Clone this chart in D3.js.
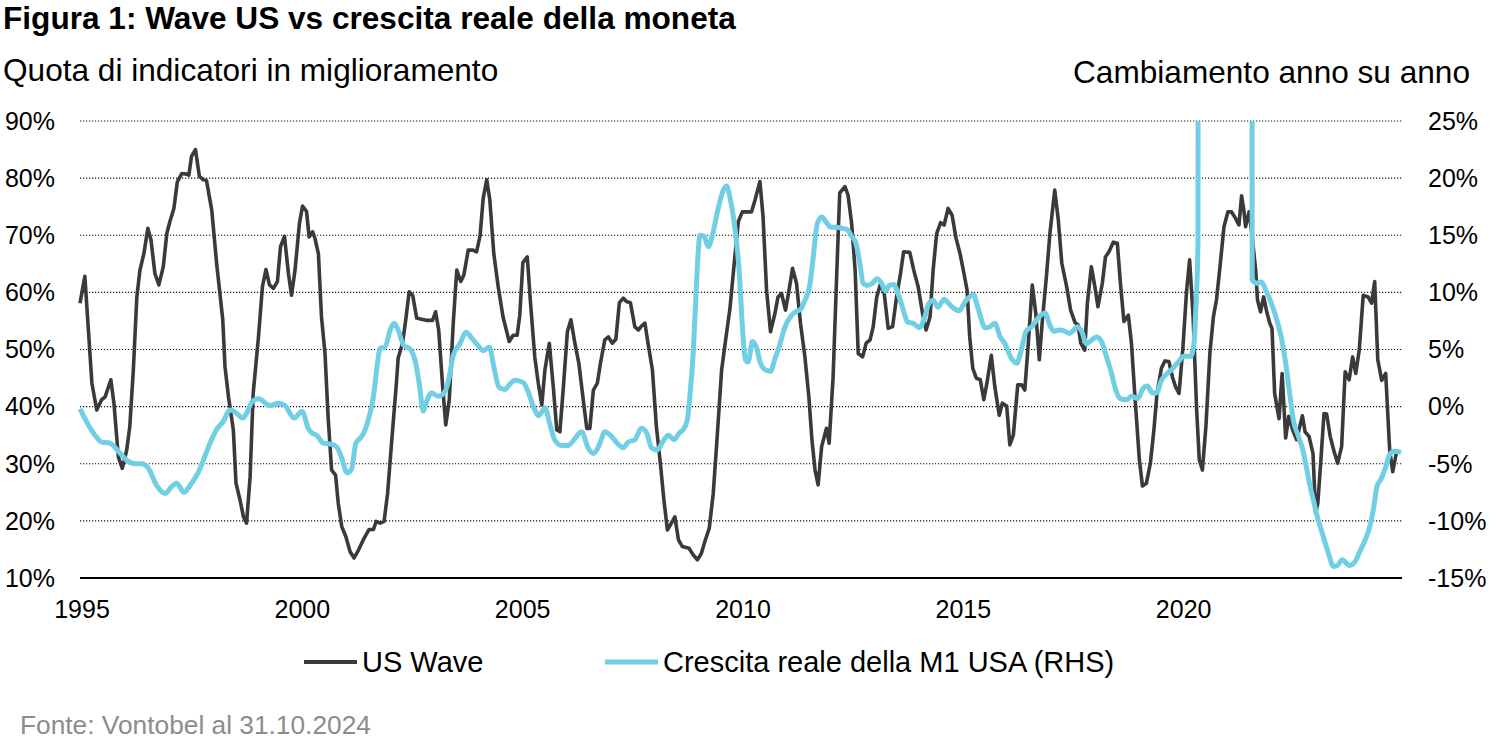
<!DOCTYPE html>
<html>
<head>
<meta charset="utf-8">
<script src="https://cdn.jsdelivr.net/npm/d3@7"></script>
<style>
  body { margin: 0; background: #fff; }
  svg { display: block; font-family: "Liberation Sans", Arial, sans-serif; }
</style>
</head>
<body>
<div id="grafico"></div>
<script>
// --- dati (anno decimale, valore) ---
const waveAnni = [1995.00,1995.11,1995.27,1995.38,1995.49,1995.57,1995.70,1995.77,1995.87,1995.96,
  1996.06,1996.13,1996.21,1996.29,1996.36,1996.45,1996.54,1996.61,1996.70,1996.79,1996.89,1996.97,
  1997.04,1997.13,1997.21,1997.31,1997.42,1997.47,1997.53,1997.62,1997.71,1997.80,1997.87,1997.99,
  1998.10,1998.24,1998.29,1998.37,1998.48,1998.54,1998.63,1998.71,1998.78,1998.86,1998.93,
  1999.05,1999.14,1999.22,1999.30,1999.39,1999.48,1999.55,1999.64,1999.73,1999.80,1999.88,1999.98,
  2000.05,2000.14,2000.20,2000.28,2000.33,2000.41,2000.48,2000.56,2000.63,2000.71,2000.80,2000.86,2000.94,
  2001.03,2001.13,2001.22,2001.32,2001.43,2001.56,2001.66,2001.72,2001.81,2001.90,2001.98,
  2002.07,2002.18,2002.22,2002.32,2002.40,2002.47,2002.55,2002.64,2002.75,2002.86,
  2003.00,2003.07,2003.14,2003.23,2003.30,2003.38,2003.47,2003.55,2003.64,2003.71,2003.81,2003.92,
  2004.00,2004.08,2004.15,2004.23,2004.30,2004.39,2004.49,2004.60,2004.74,2004.83,2004.92,2004.98,
  2005.05,2005.15,2005.22,2005.32,2005.40,2005.48,2005.55,2005.65,2005.74,2005.82,2005.89,2005.97,
  2006.06,2006.14,2006.23,2006.32,2006.42,2006.50,2006.57,2006.65,2006.74,2006.81,2006.91,2006.99,
  2007.08,2007.16,2007.24,2007.33,2007.40,2007.49,2007.59,2007.67,2007.74,2007.82,2007.89,2007.99,
  2008.08,2008.17,2008.25,2008.33,2008.42,2008.50,2008.58,2008.67,2008.82,2008.92,
  2009.01,2009.10,2009.18,2009.28,2009.37,2009.46,2009.56,2009.66,2009.75,2009.86,2009.94,
  2010.03,2010.24,2010.32,2010.43,2010.50,2010.58,2010.67,2010.77,2010.84,2010.92,
  2011.01,2011.09,2011.17,2011.26,2011.35,2011.45,2011.54,2011.61,2011.68,2011.75,2011.83,2011.94,
  2012.00,2012.09,2012.17,2012.24,2012.36,2012.43,2012.51,2012.59,2012.66,2012.76,2012.84,2012.93,
  2013.00,2013.08,2013.17,2013.25,2013.34,2013.44,2013.53,2013.62,2013.69,2013.83,2013.92,
  2014.02,2014.12,2014.20,2014.29,2014.36,2014.44,2014.53,2014.61,2014.70,2014.79,2014.88,2014.97,
  2015.06,2015.13,2015.19,2015.26,2015.34,2015.43,2015.51,2015.58,2015.68,2015.76,2015.86,2015.93,
  2016.03,2016.10,2016.18,2016.28,2016.37,2016.44,2016.52,2016.61,2016.69,2016.77,2016.84,2016.93,
  2017.01,2017.12,2017.20,2017.28,2017.39,2017.48,2017.58,2017.65,2017.71,2017.80,2017.86,2017.95,
  2018.03,2018.10,2018.20,2018.27,2018.35,2018.45,2018.54,2018.61,2018.69,2018.79,2018.86,2018.94,
  2019.04,2019.11,2019.20,2019.29,2019.37,2019.44,2019.54,2019.62,2019.71,2019.79,2019.86,2019.94,
  2020.03,2020.11,2020.18,2020.26,2020.34,2020.40,2020.47,2020.55,2020.64,2020.72,2020.79,2020.87,2020.96,
  2021.05,2021.13,2021.22,2021.30,2021.36,2021.41,2021.45,2021.53,2021.60,2021.68,2021.72,2021.79,2021.86,2021.94,
  2022.00,2022.05,2022.11,2022.21,2022.28,2022.36,2022.43,2022.52,2022.61,2022.68,2022.74,2022.80,2022.89,2022.98,
  2023.04,2023.09,2023.16,2023.23,2023.29,2023.37,2023.46,2023.54,2023.63,2023.71,2023.80,2023.88,2023.95,
  2024.03,2024.12,2024.23,2024.31,2024.38,2024.45,2024.54,2024.63,2024.72,2024.79,2024.87];
const waveValori = [58.1,62.8,44.1,39.4,41.2,41.7,44.7,40.6,31.2,29.2,
  32.4,36.5,46.4,59.2,63.9,66.8,71.2,69.2,63.3,61.3,64.5,70.3,
  72.4,74.7,79.4,80.8,80.7,80.5,83.8,85.0,80.3,79.7,79.6,74.4,
  65.1,55.2,47.0,41.7,35.9,26.6,23.7,20.7,19.6,27.7,42.3,
  52.2,61.0,64.0,61.3,60.7,61.9,68.0,69.8,63.3,59.5,63.9,72.1,
  75.1,74.2,69.7,70.6,69.5,66.8,55.7,49.3,38.2,28.9,28.0,23.1,19.0,
  17.3,14.6,13.5,14.9,16.7,18.5,18.5,19.9,19.6,19.9,24.8,
  33.6,44.1,48.5,51.1,55.7,60.1,59.5,55.5,55.3,55.1,
  55.1,56.6,53.4,43.5,36.8,41.2,54.6,63.9,61.9,63.0,67.4,67.4,
  67.1,70.0,76.5,79.7,76.2,66.8,61.0,55.7,51.4,52.5,52.5,56.0,
  65.2,66.2,58.5,48.7,44.1,40.3,46.4,51.1,43.5,35.9,35.6,43.5,
  53.1,55.2,51.1,47.6,41.2,36.2,36.2,42.9,44.1,47.6,51.7,52.2,
  51.1,51.8,58.2,59.0,58.4,58.2,54.0,53.4,54.1,54.6,51.1,46.4,
  36.5,30.1,23.7,18.4,19.6,20.7,16.7,15.5,15.2,14.0,
  13.2,14.3,16.4,18.7,24.8,34.8,46.4,52.2,57.2,66.2,72.4,
  74.1,74.1,76.2,79.4,73.3,60.4,53.1,56.3,59.2,59.8,
  56.9,60.4,64.2,61.6,54.6,48.7,41.7,34.2,28.9,26.3,33.0,36.2,
  33.6,45.2,62.7,77.4,78.5,77.0,72.1,63.9,49.3,48.7,51.1,51.7,
  54.0,59.2,61.6,59.8,53.7,54.0,59.2,63.3,67.1,67.0,63.9,
  61.0,56.3,53.4,55.7,63.9,70.3,72.2,71.8,74.7,73.5,69.5,66.8,
  63.3,60.4,52.2,46.7,45.0,44.7,41.2,44.1,49.0,43.5,38.5,40.6,
  40.1,33.3,35.0,43.8,43.8,42.9,51.1,61.3,56.3,48.2,55.2,62.7,
  70.3,77.9,72.7,65.1,61.0,56.9,54.7,54.3,51.1,49.9,58.1,64.5,
  61.0,57.5,61.6,66.2,67.1,68.8,68.6,61.6,54.9,56.0,51.1,41.7,
  30.7,26.1,26.6,30.1,35.9,42.3,46.7,48.0,47.9,45.2,43.5,42.3,
  50.5,60.1,65.7,55.7,39.4,30.7,28.9,36.5,49.3,55.7,58.7,64.5,71.5,
  74.1,74.1,73.0,71.8,76.9,74.4,71.5,74.1,69.8,63.9,58.7,56.6,59.2,56.3,
  54.6,53.7,42.3,37.9,45.8,34.5,38.3,35.9,34.2,36.5,38.4,35.6,34.8,31.8,
  21.3,23.1,30.7,38.8,38.7,34.8,32.1,30.1,33.0,46.1,44.7,48.7,45.8,
  49.9,59.5,59.2,58.1,61.9,48.2,44.6,45.8,32.4,28.6,31.8];

const m1Anni = [1995.00,1995.19,1995.34,1995.49,1995.68,1995.87,1996.06,1996.25,1996.40,1996.55,1996.74,1996.93,
  1997.08,1997.19,1997.36,1997.53,1997.68,1997.80,1997.95,1998.10,1998.25,1998.40,1998.56,1998.69,1998.78,1998.90,
  1999.05,1999.31,1999.50,1999.65,1999.86,2000.04,2000.18,2000.26,2000.37,2000.52,2000.71,2000.82,2000.94,
  2001.06,2001.16,2001.26,2001.35,2001.44,2001.56,2001.66,2001.75,2001.81,2001.92,
  2002.04,2002.13,2002.22,2002.34,2002.50,2002.60,2002.70,2002.79,2002.86,2002.98,
  2003.13,2003.28,2003.38,2003.47,2003.62,2003.76,2003.89,2004.02,2004.15,2004.29,2004.39,2004.51,2004.64,2004.76,2004.87,
  2005.06,2005.17,2005.28,2005.41,2005.55,2005.66,2005.77,2005.93,2006.08,2006.23,2006.38,2006.53,2006.65,2006.78,2006.91,
  2007.06,2007.19,2007.33,2007.44,2007.59,2007.74,2007.86,2007.97,2008.10,2008.22,2008.35,2008.48,2008.60,2008.69,2008.78,2008.84,2008.92,2008.99,
  2009.07,2009.16,2009.26,2009.35,2009.44,2009.53,2009.67,2009.76,2009.86,2009.96,
  2010.04,2010.10,2010.16,2010.26,2010.35,2010.44,2010.56,2010.67,2010.77,2010.88,2010.99,
  2011.13,2011.24,2011.35,2011.45,2011.56,2011.64,2011.73,2011.83,2011.94,
  2012.05,2012.17,2012.30,2012.41,2012.51,2012.60,2012.70,2012.77,2012.86,2012.98,
  2013.09,2013.19,2013.28,2013.36,2013.47,2013.57,2013.68,2013.78,2013.91,
  2014.04,2014.15,2014.26,2014.36,2014.47,2014.61,2014.72,2014.83,2014.95,
  2015.09,2015.27,2015.38,2015.54,2015.65,2015.76,2015.88,2015.99,
  2016.14,2016.26,2016.35,2016.47,2016.60,2016.71,2016.80,2016.90,
  2017.01,2017.10,2017.24,2017.35,2017.45,2017.55,2017.63,2017.73,2017.84,2017.95,
  2018.07,2018.18,2018.29,2018.41,2018.50,2018.61,2018.75,2018.86,
  2019.01,2019.11,2019.22,2019.34,2019.43,2019.54,2019.67,2019.79,2019.92,
  2020.05,2020.20,2020.28,2020.32,2020.37,2020.42,2020.60,2021.00,2021.40,2021.56,
  2021.60,2021.71,2021.81,2021.92,2022.04,2022.15,2022.26,2022.36,2022.45,2022.54,2022.64,2022.75,2022.83,2022.90,2022.99,
  2023.09,2023.20,2023.32,2023.45,2023.54,2023.64,2023.81,2023.93,
  2024.04,2024.15,2024.27,2024.36,2024.43,2024.53,2024.63,2024.72,2024.83,2024.98];
const m1Valori = [-0.2,-1.6,-2.5,-3.1,-3.2,-3.9,-4.7,-5.0,-5.0,-5.4,-6.9,-7.6,
  -7.0,-6.7,-7.5,-6.7,-5.8,-4.7,-3.2,-2.0,-1.3,-0.3,-0.6,-1.0,-0.6,0.4,
  0.7,0.1,0.3,0.1,-1.0,-0.4,-1.9,-2.3,-2.5,-3.2,-3.3,-3.5,-4.5,
  -5.8,-5.5,-3.2,-2.8,-2.3,-0.9,0.9,3.8,5.1,5.2,
  6.7,7.3,6.7,5.4,5.0,4.1,2.0,-0.4,0.4,1.2,
  0.9,1.3,2.6,4.5,5.5,6.5,6.0,5.4,4.9,5.2,3.5,1.7,1.5,2.0,2.3,
  2.1,1.3,0.1,-0.8,-0.1,-1.5,-2.9,-3.4,-3.4,-2.8,-2.2,-3.6,-4.1,-3.4,-2.2,
  -2.6,-3.2,-3.6,-3.1,-2.9,-1.9,-2.3,-3.6,-3.8,-3.1,-2.5,-2.9,-2.3,-2.0,-1.2,0.9,5.0,10.8,
  15.0,14.9,14.0,15.0,16.6,18.1,19.3,18.1,15.7,11.8,
  6.5,4.1,3.9,5.7,5.2,3.8,3.2,3.1,4.2,5.4,6.9,
  7.9,8.3,8.5,9.3,10.6,13.1,16.0,16.6,16.1,
  15.7,15.7,15.6,15.5,14.9,14.4,12.5,10.8,10.6,10.8,
  11.2,10.8,10.1,10.6,10.7,9.8,8.5,7.4,7.3,
  6.9,7.6,9.0,9.3,8.7,9.4,9.0,8.6,8.4,
  9.2,9.8,8.6,6.9,7.0,7.3,6.1,5.5,
  4.2,3.8,4.8,6.6,7.0,7.6,8.0,8.2,
  7.1,6.6,6.7,6.6,6.4,6.7,7.0,6.6,5.5,5.8,
  6.1,5.7,4.4,2.9,1.5,0.7,0.6,0.9,
  0.7,1.5,1.8,1.2,1.2,2.3,2.9,3.3,3.9,
  4.4,4.4,5.5,8.5,14.3,250,320,340,330,300,
  11.1,10.8,10.9,10.1,9.0,7.7,6.1,3.8,1.2,-1.3,-2.5,-3.8,-5.3,-6.7,-8.2,
  -9.8,-11.2,-12.7,-14.0,-13.9,-13.4,-13.9,-13.6,
  -12.7,-11.8,-10.5,-8.8,-7.0,-6.3,-5.3,-4.2,-3.9,-4.0];

const tickSinistra = [10, 20, 30, 40, 50, 60, 70, 80, 90];
const tickDestra = [-15, -10, -5, 0, 5, 10, 15, 20, 25];
const tickAnni = [1995, 2000, 2005, 2010, 2015, 2020];

const serieWave = waveAnni.map((a, i) => ({ anno: a, valore: waveValori[i] }));
const serieM1 = m1Anni.map((a, i) => ({ anno: a, valore: m1Valori[i] }));

const larghezza = 1500, altezza = 750;
const area = { left: 80, right: 1402, top: 121, bottom: 578 };

const svg = d3.select("#grafico").append("svg")
  .attr("width", larghezza)
  .attr("height", altezza);

svg.append("rect").attr("width", larghezza).attr("height", altezza).attr("fill", "#fff");

const x = d3.scaleLinear().domain([1995, 2025]).range([area.left, area.right]);
const ySin = d3.scaleLinear().domain([10, 90]).range([area.bottom, area.top]);
const yDes = d3.scaleLinear().domain([-15, 25]).range([area.bottom, area.top]);

// griglia tratteggiata
svg.append("g")
  .selectAll("line")
  .data(tickSinistra.filter(t => t > 10))
  .enter().append("line")
  .attr("x1", area.left).attr("x2", area.right)
  .attr("y1", d => ySin(d)).attr("y2", d => ySin(d))
  .attr("stroke", "#111")
  .attr("stroke-width", 1.1)
  .attr("stroke-dasharray", "1.2,1.8");

// asse inferiore
svg.append("line")
  .attr("x1", area.left).attr("x2", area.right)
  .attr("y1", area.bottom).attr("y2", area.bottom)
  .attr("stroke", "#000").attr("stroke-width", 2);

// etichette assi
svg.append("g")
  .selectAll("text")
  .data(tickSinistra)
  .enter().append("text")
  .attr("x", 55).attr("y", d => ySin(d)).attr("dy", "0.35em")
  .attr("text-anchor", "end")
  .style("font-size", "25px")
  .text(d => d + "%");

svg.append("g")
  .selectAll("text")
  .data(tickDestra)
  .enter().append("text")
  .attr("x", 1428).attr("y", d => yDes(d)).attr("dy", "0.35em")
  .attr("text-anchor", "start")
  .style("font-size", "25px")
  .text(d => d + "%");

svg.append("g")
  .selectAll("text")
  .data(tickAnni)
  .enter().append("text")
  .attr("x", d => x(d) + 2).attr("y", 618)
  .attr("text-anchor", "middle")
  .style("font-size", "25px")
  .text(d => d);

// linee
svg.append("clipPath").attr("id", "ritaglio")
  .append("rect")
  .attr("x", area.left - 5).attr("y", area.top)
  .attr("width", area.right - area.left + 10)
  .attr("height", area.bottom - area.top + 10);

const lineaWave = d3.line().x(d => x(d.anno)).y(d => ySin(d.valore));
const lineaM1 = d3.line().x(d => x(d.anno)).y(d => yDes(d.valore)).curve(d3.curveMonotoneX);

const gLinee = svg.append("g").attr("clip-path", "url(#ritaglio)");

gLinee.append("path")
  .datum(serieWave)
  .attr("d", lineaWave)
  .attr("fill", "none")
  .attr("stroke", "#3a3a3a")
  .attr("stroke-width", 3.6)
  .attr("stroke-linejoin", "round");

gLinee.append("path")
  .datum(serieM1)
  .attr("d", lineaM1)
  .attr("fill", "none")
  .attr("stroke", "#70cfe4")
  .attr("stroke-width", 5)
  .attr("stroke-linejoin", "round");

// titoli
svg.append("text")
  .attr("x", 3).attr("y", 29)
  .style("font-size", "31.6px").style("font-weight", "bold")
  .text("Figura 1: Wave US vs crescita reale della moneta");

svg.append("text")
  .attr("x", 3).attr("y", 81)
  .style("font-size", "31.6px")
  .text("Quota di indicatori in miglioramento");

svg.append("text")
  .attr("x", 1470).attr("y", 83)
  .attr("text-anchor", "end")
  .style("font-size", "31.6px")
  .text("Cambiamento anno su anno");

// legenda
const legenda = [
  { nome: "US Wave", colore: "#3a3a3a", spessore: 4, x0: 304 },
  { nome: "Crescita reale della M1 USA (RHS)", colore: "#70cfe4", spessore: 5, x0: 605 }
];
const gLeg = svg.append("g");
legenda.forEach(l => {
  gLeg.append("line")
    .attr("x1", l.x0).attr("x2", l.x0 + 53)
    .attr("y1", 662).attr("y2", 662)
    .attr("stroke", l.colore).attr("stroke-width", l.spessore);
  gLeg.append("text")
    .attr("x", l.x0 + 58).attr("y", 662).attr("dy", "0.35em")
    .style("font-size", "29px")
    .text(l.nome);
});

// fonte
svg.append("text")
  .attr("x", 20).attr("y", 734)
  .style("font-size", "26.3px")
  .attr("fill", "#8c8c8c")
  .text("Fonte: Vontobel al 31.10.2024");
</script>
</body>
</html>
